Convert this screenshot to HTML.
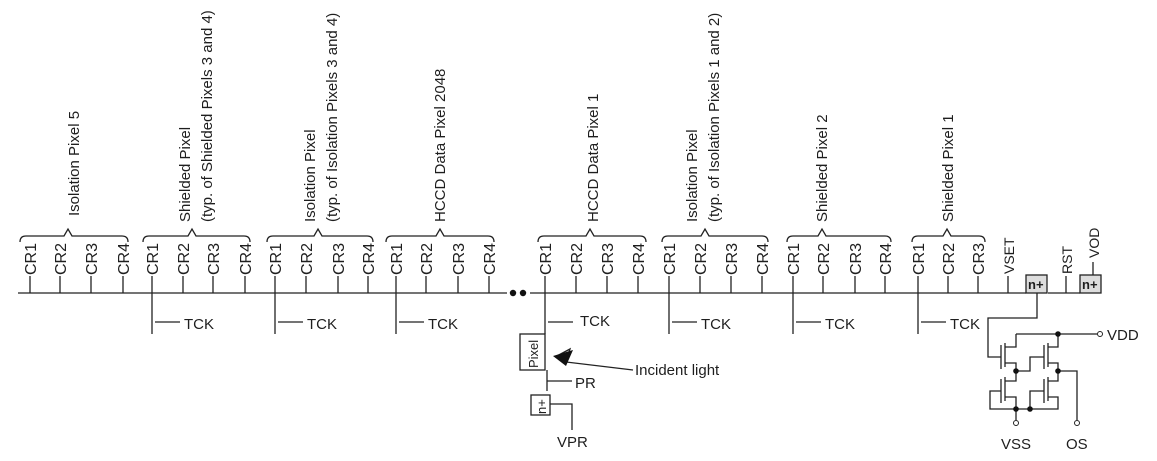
<!DOCTYPE html>
<html><head><meta charset="utf-8"><style>
html,body{margin:0;padding:0;background:#fff}
svg{display:block}
text{font-family:"Liberation Sans","DejaVu Sans",sans-serif;fill:#1e1e1e}
</style></head><body>
<svg width="1157" height="461" viewBox="0 0 1157 461" xmlns="http://www.w3.org/2000/svg">
<g stroke="#222" stroke-width="1.3" fill="none">
<line x1="18" y1="293" x2="507" y2="293"/>
<line x1="530" y1="293" x2="1026" y2="293"/>
<line x1="1048" y1="293" x2="1080" y2="293"/>
<path d="M20,242 Q20,236 26,236 L64,236 L68,229 L72,236 L122,236 Q128,236 128,242"/>
<path d="M143,242 Q143,236 149,236 L188,236 L192,229 L196,236 L244,236 Q250,236 250,242"/>
<path d="M267,242 Q267,236 273,236 L314,236 L318,229 L322,236 L367,236 Q373,236 373,242"/>
<path d="M386,242 Q386,236 392,236 L436,236 L440,229 L444,236 L488,236 Q494,236 494,242"/>
<path d="M538,242 Q538,236 544,236 L586,236 L590,229 L594,236 L640,236 Q646,236 646,242"/>
<path d="M662,242 Q662,236 668,236 L701,236 L705,229 L709,236 L762,236 Q768,236 768,242"/>
<path d="M787,242 Q787,236 793,236 L818,236 L822,229 L826,236 L885,236 Q891,236 891,242"/>
<path d="M912,242 Q912,236 918,236 L943,236 L947,229 L951,236 L979,236 Q985,236 985,242"/>
<path d="M30,276V293M60,276V293M91,276V293M123,276V293
M152,276V293M183,276V293M213,276V293M245,276V293
M275,276V293M306,276V293M338,276V293M368,276V293
M396,276V293M426,276V293M458,276V293M489,276V293
M545,276V293M576,276V293M607,276V293M638,276V293
M669,276V293M700,276V293M731,276V293M762,276V293
M793,276V293M823,276V293M855,276V293M885,276V293
M918,276V293M948,276V293M978,276V293M1008,276V293M1066,276V293M1093,262V277"/>
<path d="M152,293V334M155,322H180 M275,293V334M278,322H303 M396,293V334M399,322H424 M545,293V334M548,322H573 M669,293V334M672,322H697 M793,293V334M796,322H821 M918,293V334M921,322H946"/>
<rect x="1026" y="275" width="21" height="18" fill="#ddd"/>
<rect x="1080" y="275" width="21" height="18" fill="#ddd"/>
<rect x="520" y="334" width="25" height="36"/>
<path d="M547,370V391M547,381H572"/>
<rect x="531" y="395" width="19" height="20"/>
<path d="M550,404H572V430"/>
<path d="M555,357 L570,349 L566,362 L633,370"/>
<path d="M1037,293V318H988V357H1001"/>
<path d="M1001,345V369M1005,343V367M1005,347H1016V334M1005,363H1016V371"/>
<path d="M1016,334H1097"/>
<path d="M1044,345V369M1048,343V367M1048,347H1058V334M1048,363H1058V371"/>
<path d="M1016,371H1030V357H1044"/>
<path d="M1058,371H1077V420"/>
<path d="M1001,379V403M1005,377V401M1005,381H1016V371M1005,397H1016V409M1001,391H990V409H1030"/>
<path d="M1044,379V403M1048,377V401M1048,381H1058V371M1048,397H1058V409H1030M1044,391H1030V409"/>
<path d="M1016,409V420"/>
</g>
<polygon points="553,356 573,350 566,366" fill="#111"/>
<g fill="#111">
<circle cx="513" cy="293" r="3.2"/><circle cx="523" cy="293" r="3.2"/>
<circle cx="1058" cy="334" r="2.8"/><circle cx="1016" cy="371" r="2.8"/><circle cx="1058" cy="371" r="2.8"/>
<circle cx="1016" cy="409" r="2.8"/><circle cx="1030" cy="409" r="2.8"/>
</g>
<g fill="#fff" stroke="#222" stroke-width="1">
<circle cx="1100" cy="334" r="2.5"/><circle cx="1016" cy="423" r="2.5"/><circle cx="1077" cy="423" r="2.5"/>
</g>
<g font-size="16">
<text transform="translate(36,275) rotate(-90)">CR1</text>
<text transform="translate(66,275) rotate(-90)">CR2</text>
<text transform="translate(97,275) rotate(-90)">CR3</text>
<text transform="translate(129,275) rotate(-90)">CR4</text>
<text transform="translate(158,275) rotate(-90)">CR1</text>
<text transform="translate(189,275) rotate(-90)">CR2</text>
<text transform="translate(219,275) rotate(-90)">CR3</text>
<text transform="translate(251,275) rotate(-90)">CR4</text>
<text transform="translate(281,275) rotate(-90)">CR1</text>
<text transform="translate(312,275) rotate(-90)">CR2</text>
<text transform="translate(344,275) rotate(-90)">CR3</text>
<text transform="translate(374,275) rotate(-90)">CR4</text>
<text transform="translate(402,275) rotate(-90)">CR1</text>
<text transform="translate(432,275) rotate(-90)">CR2</text>
<text transform="translate(464,275) rotate(-90)">CR3</text>
<text transform="translate(495,275) rotate(-90)">CR4</text>
<text transform="translate(551,275) rotate(-90)">CR1</text>
<text transform="translate(582,275) rotate(-90)">CR2</text>
<text transform="translate(613,275) rotate(-90)">CR3</text>
<text transform="translate(644,275) rotate(-90)">CR4</text>
<text transform="translate(675,275) rotate(-90)">CR1</text>
<text transform="translate(706,275) rotate(-90)">CR2</text>
<text transform="translate(737,275) rotate(-90)">CR3</text>
<text transform="translate(768,275) rotate(-90)">CR4</text>
<text transform="translate(799,275) rotate(-90)">CR1</text>
<text transform="translate(829,275) rotate(-90)">CR2</text>
<text transform="translate(861,275) rotate(-90)">CR3</text>
<text transform="translate(891,275) rotate(-90)">CR4</text>
<text transform="translate(924,275) rotate(-90)">CR1</text>
<text transform="translate(954,275) rotate(-90)">CR2</text>
<text transform="translate(984,275) rotate(-90)">CR3</text>
<text transform="translate(1014,274) rotate(-90)" font-size="14">VSET</text>
<text transform="translate(1072,274) rotate(-90)" font-size="14">RST</text>
<text transform="translate(1099,258) rotate(-90)" font-size="14">VOD</text>
</g>
<g font-size="15">
<text transform="translate(79,216) rotate(-90)">Isolation Pixel 5</text>
<text transform="translate(190,222) rotate(-90)">Shielded Pixel</text>
<text transform="translate(212,222) rotate(-90)">(typ. of Shielded Pixels 3 and 4)</text>
<text transform="translate(315,222) rotate(-90)">Isolation Pixel</text>
<text transform="translate(337,222) rotate(-90)">(typ. of Isolation Pixels 3 and 4)</text>
<text transform="translate(445,222) rotate(-90)">HCCD Data Pixel 2048</text>
<text transform="translate(598,222) rotate(-90)">HCCD Data Pixel 1</text>
<text transform="translate(697,222) rotate(-90)">Isolation Pixel</text>
<text transform="translate(719,222) rotate(-90)">(typ. of Isolation Pixels 1 and 2)</text>
<text transform="translate(827,222) rotate(-90)">Shielded Pixel 2</text>
<text transform="translate(953,222) rotate(-90)">Shielded Pixel 1</text>
</g>
<g font-size="15">
<text x="184" y="329">TCK</text><text x="307" y="329">TCK</text><text x="428" y="329">TCK</text>
<text x="580" y="326">TCK</text><text x="701" y="329">TCK</text><text x="825" y="329">TCK</text><text x="950" y="329">TCK</text>
<text x="575" y="388">PR</text>
<text x="635" y="375">Incident light</text>
<text x="557" y="447">VPR</text>
<text x="1107" y="340">VDD</text>
<text x="1001" y="449">VSS</text>
<text x="1066" y="449">OS</text>
<text transform="translate(538,368) rotate(-90)" font-size="13">Pixel</text>
<text transform="translate(546,414) rotate(-90)" font-size="13">n+</text>
<text x="1028" y="289" font-size="13" font-weight="bold">n+</text>
<text x="1082" y="289" font-size="13" font-weight="bold">n+</text>
</g>
</svg>
</body></html>
